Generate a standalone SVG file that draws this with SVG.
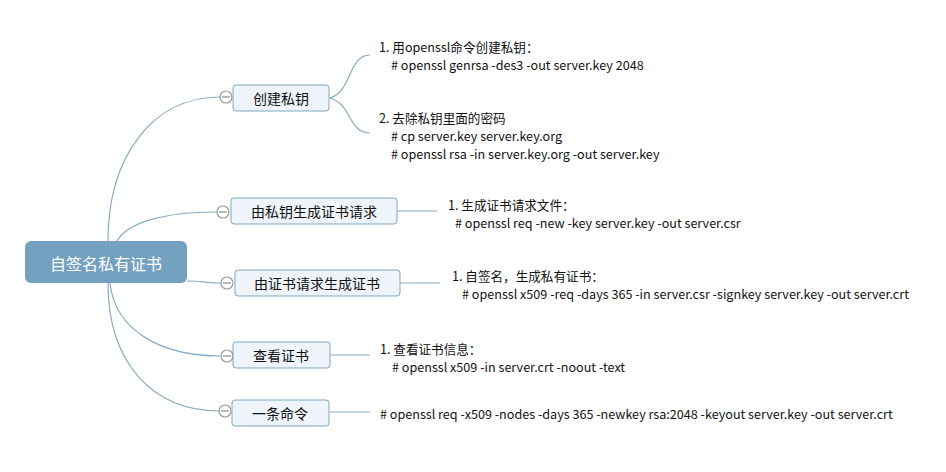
<svg xmlns="http://www.w3.org/2000/svg" width="946" height="472" viewBox="0 0 946 472">
<style>
.bg{fill:#ffffff}
.conn{fill:none;stroke:#88abc6;stroke-width:1.2}
.box{fill:#eef4f9;stroke:#80a7c3;stroke-width:1}
.root{fill:#73a1bf}
.lbl{font-family:"Noto Sans CJK SC","Microsoft YaHei",sans-serif;font-size:14px;fill:#111;text-anchor:middle;dominant-baseline:central}
.rootlbl{font-family:"Noto Sans CJK SC",sans-serif;font-size:16px;fill:#ffffff;text-anchor:middle;dominant-baseline:central}
.t{font-family:"Noto Sans CJK SC","Microsoft YaHei",sans-serif;font-size:12.6px;fill:#111;dominant-baseline:central}
.tog{fill:#ffffff;stroke:#9a9a9a;stroke-width:1.2}
.togm{stroke:#8a8a8a;stroke-width:1.2}
</style>
<rect class="bg" x="0" y="0" width="946" height="472"/>
<g id="connectors">
<path class="conn" d="M108,241 C108,160 150,97 220,97"/>
<path class="conn" d="M117,241 C128,222 165,212 217,212"/>
<path class="conn" d="M187,281 C200,281 210,283 221,283"/>
<path class="conn" d="M110,283 C115,330 160,356 221,356"/>
<path class="conn" d="M108,283 C108,360 150,411 220,411"/>
<path class="conn" d="M330,98 C352,92 348,55 370,55"/>
<path class="conn" d="M330,98 C352,104 348,133 370,133"/>
<path class="conn" d="M397,211 L437,211"/>
<path class="conn" d="M400,283 L440,283"/>
<path class="conn" d="M330,355 L370,355"/>
<path class="conn" d="M330,412 L370,412"/>
</g>
<g id="root">
<rect class="root" x="25" y="241" width="162" height="42" rx="6"/>
<text class="rootlbl" x="106" y="263">自签名私有证书</text>
</g>
<g id="node1">
<rect class="box" x="233" y="85" width="96" height="26" rx="3"/>
<text class="lbl" x="281" y="98">创建私钥</text>
<circle class="tog" cx="226" cy="97" r="6"/><line class="togm" x1="222" y1="97" x2="230" y2="97"/>
</g>
<g id="node2">
<rect class="box" x="231" y="198" width="166" height="26" rx="3"/>
<text class="lbl" x="314" y="211">由私钥生成证书请求</text>
<circle class="tog" cx="223" cy="212" r="6"/><line class="togm" x1="219" y1="212" x2="227" y2="212"/>
</g>
<g id="node3">
<rect class="box" x="235" y="270" width="165" height="26" rx="3"/>
<text class="lbl" x="317" y="283">由证书请求生成证书</text>
<circle class="tog" cx="227" cy="283" r="6"/><line class="togm" x1="223" y1="283" x2="231" y2="283"/>
</g>
<g id="node4">
<rect class="box" x="233" y="342" width="97" height="26" rx="3"/>
<text class="lbl" x="281" y="355">查看证书</text>
<circle class="tog" cx="227" cy="356" r="6"/><line class="togm" x1="223" y1="356" x2="231" y2="356"/>
</g>
<g id="node5">
<rect class="box" x="232" y="400" width="97" height="26" rx="3"/>
<text class="lbl" x="280" y="413">一条命令</text>
<circle class="tog" cx="225" cy="411" r="6"/><line class="togm" x1="221" y1="411" x2="229" y2="411"/>
</g>
<g id="notes">
<text class="t" x="379" y="46">1. 用openssl命令创建私钥：</text>
<text class="t" x="391" y="64"># openssl genrsa -des3 -out server.key 2048</text>
<text class="t" x="379" y="117">2. 去除私钥里面的密码</text>
<text class="t" x="391" y="135"># cp server.key server.key.org</text>
<text class="t" x="391" y="153"># openssl rsa -in server.key.org -out server.key</text>
<text class="t" x="448" y="204">1. 生成证书请求文件：</text>
<text class="t" x="455" y="222"># openssl req -new -key server.key -out server.csr</text>
<text class="t" x="452" y="275">1. 自签名，生成私有证书：</text>
<text class="t" x="462" y="293"># openssl x509 -req -days 365 -in server.csr -signkey server.key -out server.crt</text>
<text class="t" x="380" y="348">1. 查看证书信息：</text>
<text class="t" x="392" y="366"># openssl x509 -in server.crt -noout -text</text>
<text class="t" x="380" y="413"># openssl req -x509 -nodes -days 365 -newkey rsa:2048 -keyout server.key -out server.crt</text>
</g>
</svg>
